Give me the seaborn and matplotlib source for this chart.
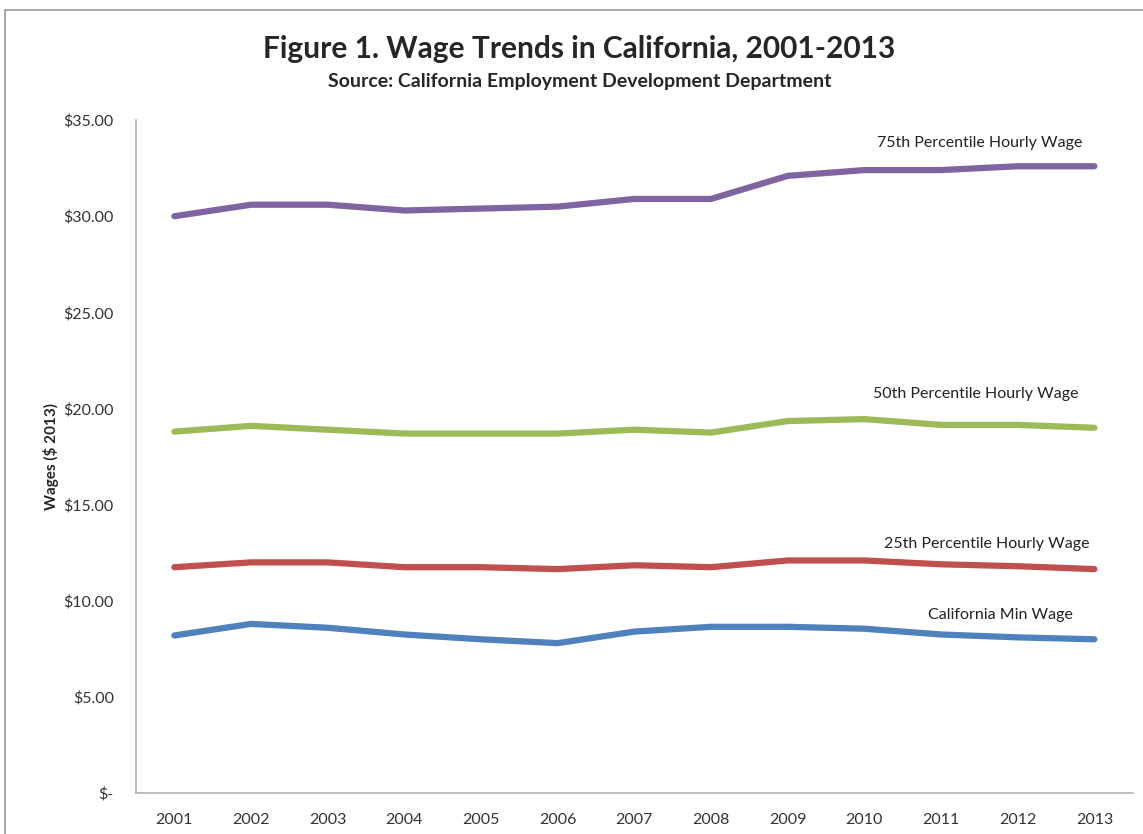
import numpy as np
import pandas as pd
import matplotlib
matplotlib.use("Agg")
import matplotlib.pyplot as plt
from matplotlib.ticker import FuncFormatter
from matplotlib.patches import Rectangle
import seaborn as sns

# Data
years = [2001, 2002, 2003, 2004, 2005, 2006, 2007, 2008, 2009, 2010, 2011, 2012, 2013]
p75 = [30.0, 30.6, 30.6, 30.3, 30.4, 30.5, 30.9, 30.9, 32.1, 32.4, 32.4, 32.6, 32.6]
p50 = [18.8, 19.1, 18.9, 18.7, 18.7, 18.7, 18.9, 18.75, 19.35, 19.45, 19.15, 19.15, 19.0]
p25 = [11.75, 12.0, 12.0, 11.75, 11.75, 11.65, 11.85, 11.75, 12.1, 12.1, 11.9, 11.8, 11.65]
min_wage = [8.2, 8.8, 8.6, 8.25, 8.0, 7.8, 8.4, 8.65, 8.65, 8.55, 8.25, 8.1, 8.0]

series_names = ["75th Percentile Hourly Wage", "50th Percentile Hourly Wage",
                "25th Percentile Hourly Wage", "California Min Wage"]
series_values = [p75, p50, p25, min_wage]
colors = ["#8064A2", "#9BBB59", "#C0504D", "#4F81BD"]

rows = []
for name, vals in zip(series_names, series_values):
    for i, (yr, v) in enumerate(zip(years, vals)):
        rows.append({"pos": i, "year": yr, "wage": v, "series": name})
df = pd.DataFrame(rows)

sns.set_style("white")
plt.rcParams["font.family"] = ["Lato", "DejaVu Sans"]

fig = plt.figure(figsize=(11.43, 8.34), dpi=100)
ax = fig.add_axes([0.119, 0.049, 0.872, 0.807])

sns.lineplot(data=df, x="pos", y="wage", hue="series", palette=colors,
             linewidth=4.5, legend=False, ax=ax, solid_capstyle="round")

ax.set_xlim(-0.5, len(years) - 0.5)
ax.set_ylim(0, 35)
ax.set_xticks(range(len(years)))
ax.set_xticklabels([str(y) for y in years])
ax.set_yticks(np.arange(0, 36, 5))
ax.yaxis.set_major_formatter(FuncFormatter(
    lambda v, _: "\\$-" if v == 0 else f"\\${v:,.2f}"))
ax.tick_params(axis="both", length=0, labelsize=11.5, labelcolor="#333333")
ax.tick_params(axis="y", pad=16)
ax.tick_params(axis="x", pad=14)
ax.set_xlabel("")
ax.set_ylabel("Wages (\\$ 2013)", fontsize=11, fontweight="bold", labelpad=3)

for side in ["top", "right"]:
    ax.spines[side].set_visible(False)
for side in ["left", "bottom"]:
    ax.spines[side].set_color("#b0b0b0")
    ax.spines[side].set_linewidth(1.2)

# series labels
label_pos = [(10.5, 33.8), (10.45, 20.75), (10.6, 12.95), (10.78, 9.26)]
for name, (lx, ly) in zip(series_names, label_pos):
    ax.text(lx, ly, name, ha="center", va="center", fontsize=11.5, color="#222222")

fig.text(0.507, 0.941, "Figure 1. Wage Trends in California, 2001-2013",
         ha="center", va="center", fontsize=21.5, fontweight="bold")
fig.text(0.507, 0.902, "Source: California Employment Development Department",
         ha="center", va="center", fontsize=14, fontweight="bold")

# outer chart frame
fig.patches.append(Rectangle((5 / 1143, -0.05), 1140 / 1143, 1.05 - 10 / 834,
                             transform=fig.transFigure, fill=False,
                             edgecolor="#999999", linewidth=1.2))

fig.savefig("out.png", dpi=100, facecolor="white")
